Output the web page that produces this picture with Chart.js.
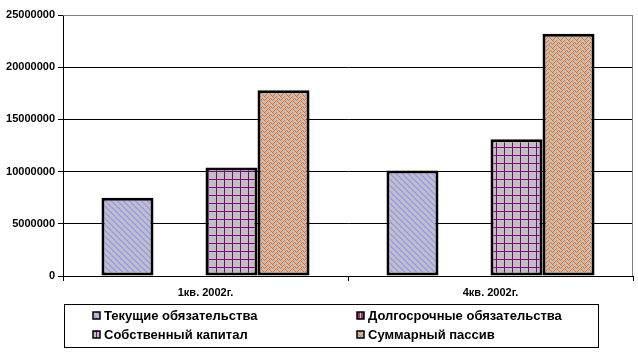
<!DOCTYPE html>
<html>
<head>
<meta charset="utf-8">
<script src="https://cdn.jsdelivr.net/npm/chart.js@4"></script>
<style>
  html, body { margin: 0; padding: 0; background: #fff; }
  #wrap { width: 638px; height: 352px; position: relative; }
</style>
</head>
<body>
<div id="wrap"><canvas id="passiveChart" width="638" height="352"></canvas></div>
<script>
// periods and series
const categories = ['1кв. 2002г.', '4кв. 2002г.'];
const seriesNames = ['Текущие обязательства', 'Долгосрочные обязательства', 'Собственный капитал', 'Суммарный пассив'];
const currentLiab = [7500000, 10100000];
const longTermLiab = [0, 0];
const equity = [10400000, 13100000];
const totalPassive = [17800000, 23200000];
const yTicks = [0, 5000000, 10000000, 15000000, 20000000, 25000000];

// small bitmaps for the Excel-like fills
function makePattern(bg, fg, rows) {
  const c = document.createElement('canvas');
  c.width = rows[0].length;
  c.height = rows.length;
  const g = c.getContext('2d');
  g.fillStyle = bg;
  g.fillRect(0, 0, c.width, c.height);
  g.fillStyle = fg;
  rows.forEach((row, y) => {
    for (let x = 0; x < row.length; x++) {
      if (row[x] === '1') g.fillRect(x, y, 1, 1);
    }
  });
  return g.createPattern(c, 'repeat');
}

const stripePat = makePattern('#c0c0c0', '#9999ff', [
  '110000', '011000', '001100', '000110', '000011', '100001'
]);
const gridPat = makePattern('#c0c0c0', '#800080', [
  '10000000', '10000000', '10000000', '11111111',
  '10000000', '10000000', '10000000', '10000000'
]);
const weavePat = makePattern('#c0c0c0', '#ff6600', [
  '10001000', '01010000', '00100010', '01000101',
  '10001000', '00010100', '00100010', '01000001'
]);
const darkPat = makePattern('#993366', '#c0c0c0', [
  '10000000', '10000000', '10000000', '10000000',
  '10000000', '10000000', '10000000', '10000000'
]);

const fills = [stripePat, darkPat, gridPat, weavePat];
const seriesData = [currentLiab, longTermLiab, equity, totalPassive];

const FONT = 'Arial, "Liberation Sans", sans-serif';

// grey frame of the plot area
const plotFrame = {
  id: 'plotFrame',
  beforeDatasetsDraw(chart) {
    const a = chart.chartArea;
    const ctx = chart.ctx;
    ctx.save();
    ctx.strokeStyle = '#808080';
    ctx.lineWidth = 1;
    ctx.beginPath();
    ctx.moveTo(a.left, a.top + 0.5);
    ctx.lineTo(a.right - 0.5, a.top + 0.5);
    ctx.lineTo(a.right - 0.5, a.bottom);
    ctx.stroke();
    ctx.restore();
  }
};

// boxed two-column legend like the original
const boxLegend = {
  id: 'boxLegend',
  afterDraw(chart) {
    const ctx = chart.ctx;
    ctx.save();
    ctx.strokeStyle = '#000';
    ctx.lineWidth = 1;
    ctx.strokeRect(64.5, 304.5, 534, 43);
    ctx.font = 'bold 13px ' + FONT;
    ctx.textBaseline = 'middle';
    const cols = [93, 357];
    const rows = [316, 335];
    seriesNames.forEach((name, i) => {
      const x = cols[i % 2];
      const y = rows[Math.floor(i / 2)];
      ctx.fillStyle = fills[i];
      ctx.fillRect(x, y - 4, 7, 7);
      ctx.strokeStyle = '#000';
      ctx.lineWidth = 1.5;
      ctx.strokeRect(x, y - 4, 7, 7);
      ctx.fillStyle = '#000';
      ctx.fillText(name, x + 11, y);
    });
    ctx.restore();
  }
};

new Chart(document.getElementById('passiveChart').getContext('2d'), {
  type: 'bar',
  data: {
    labels: categories,
    datasets: seriesNames.map((name, i) => ({
      label: name,
      data: seriesData[i],
      backgroundColor: fills[i],
      borderColor: '#000',
      borderWidth: 3,
      borderSkipped: false
    }))
  },
  options: {
    responsive: false,
    animation: false,
    events: [],
    layout: { padding: { top: 15, right: 5, left: 0, bottom: 0 } },
    datasets: {
      bar: { categoryPercentage: 0.73, barPercentage: 1.0 }
    },
    plugins: {
      legend: { display: false },
      tooltip: { enabled: false }
    },
    scales: {
      x: {
        afterFit: function(scale) { scale.height = 76; },
        grid: {
          offset: true,
          drawOnChartArea: false,
          drawTicks: true,
          tickLength: 5,
          color: '#000'
        },
        border: { color: '#000', width: 1 },
        ticks: {
          color: '#000',
          padding: 5,
          font: { family: FONT, size: 11, weight: 'bold' }
        }
      },
      y: {
        min: 0,
        max: 25000000,
        afterFit: function(scale) { scale.width = 63; },
        afterBuildTicks: function(scale) {
          scale.ticks = yTicks.map(v => ({ value: v }));
        },
        grid: {
          color: function(ctx) {
            return ctx.tick && ctx.tick.value === 25000000 ? '#808080' : '#000';
          },
          tickColor: '#000',
          tickLength: 5
        },
        border: { color: '#000', width: 1 },
        ticks: {
          color: '#000',
          padding: 3,
          font: { family: FONT, size: 11, weight: 'bold' },
          callback: function(value) { return String(value); }
        }
      }
    }
  },
  plugins: [plotFrame, boxLegend]
});
</script>
</body>
</html>
